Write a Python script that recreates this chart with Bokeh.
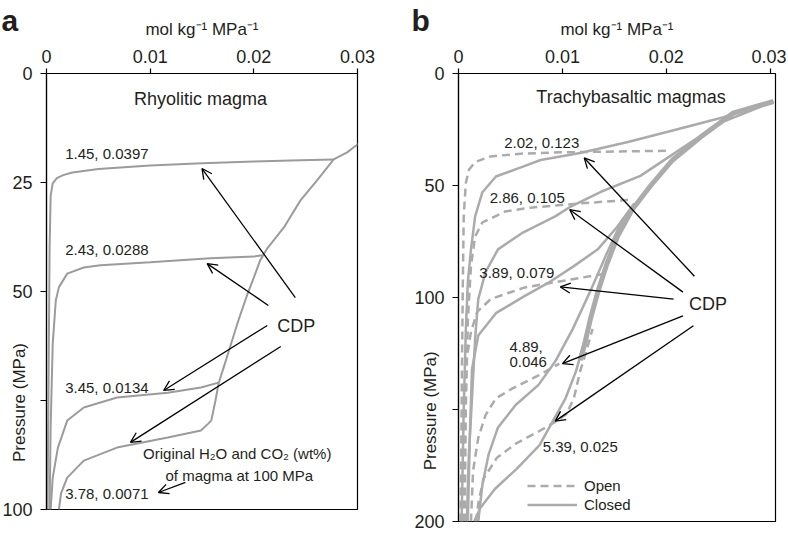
from bokeh.plotting import figure
from bokeh.models import Range1d, Label, Arrow, OpenHead, FixedTicker, Legend, LegendItem
from bokeh.layouts import row, column
from bokeh.embed import file_html
from bokeh.resources import INLINE

FONT = "Liberation Sans"
TXT = "#231f20"
NBSP = "\u00a0"

# ---------------- Panel a: Rhyolitic magma ----------------
a_xticks = [0, 0.01, 0.02, 0.03]
a_xtick_labels = ["0", "0.01", "0.02", "0.03"]
a_yticks = [0, 25, 50, 75, 100]
a_ytick_labels = ["0", "25", "50", "", "100"]

a1_x = [0.0001, 0.0002, 0.0003, 0.0004, 0.0006, 0.0010, 0.0016, 0.0025, 0.0050, 0.0100, 0.0150, 0.0200, 0.0245, 0.0277]
a1_p = [100, 70, 40, 28, 25.2, 24.0, 23.3, 22.7, 21.9, 21.1, 20.6, 20.2, 19.9, 19.7]

a2_x = [0.0003, 0.0004, 0.0006, 0.0009, 0.0012, 0.0020, 0.0036, 0.0052, 0.0100, 0.0158, 0.0200, 0.0208]
a2_p = [100, 81, 62, 52, 49, 45.9, 44.5, 44.0, 43.3, 42.4, 42.0, 41.7]

a3_x = [0.0004, 0.0006, 0.0011, 0.0020, 0.0036, 0.0068, 0.0117, 0.0149, 0.0166]
a3_p = [100, 92.7, 85.8, 79.6, 76.6, 74.3, 73.2, 72.0, 70.9]

a4_x = [0.0012, 0.0014, 0.0020, 0.0036, 0.0068, 0.0117, 0.0149, 0.0156, 0.0159]
a4_p = [100, 96.3, 92.7, 88.8, 85.8, 83.5, 81.9, 80.3, 79.6]

a_env_x = [0.0159, 0.0161, 0.0163, 0.0166, 0.0170, 0.0177, 0.0185, 0.0194, 0.0200, 0.0206,
           0.0213, 0.0229, 0.0245, 0.0261, 0.0277, 0.0290, 0.0301]
a_env_p = [79.6, 77.3, 75.0, 71.1, 68.1, 62.8, 56.7, 50.5, 46.8, 42.9,
           40.1, 35.3, 29.1, 24.5, 19.7, 18.1, 16.1]

# ---------------- Panel b: Trachybasaltic magmas ----------------
b_xticks = [0, 0.01, 0.02, 0.03]
b_xtick_labels = ["0", "0.01", "0.02", "0.03"]
b_yticks = [0, 50, 100, 150, 200]
b_ytick_labels = ["0", "50", "100", "", "200"]

band_x = [0.0303, 0.0264, 0.0233, 0.0206, 0.0185, 0.0167, 0.0153, 0.0142, 0.0134, 0.0127, 0.0121, 0.0117]
band_p = [12.5, 17.7, 28.4, 38.6, 50, 60.8, 72.7, 86, 97.6, 109.5, 121.5, 128]

c1_x = [0.0003, 0.0005, 0.0007, 0.0009, 0.0012, 0.0016, 0.0023, 0.0036, 0.0062, 0.0079, 0.0117, 0.0163, 0.0207, 0.0255, 0.0303]
c1_p = [200, 150, 115, 93, 78.5, 63.8, 53, 46, 41.6, 38.6, 35.5, 30.6, 25.3, 19.5, 12.5]
o1_x = [0.0002, 0.0003, 0.0004, 0.0005, 0.0007, 0.0010, 0.0016, 0.0031, 0.0060, 0.0098, 0.0156, 0.0203]
o1_p = [200, 150, 100, 64, 49, 43, 39.5, 37, 35.8, 35.2, 34.8, 34.5]

c2_x = [0.0008, 0.0010, 0.0013, 0.0016, 0.0019, 0.0026, 0.0038, 0.0062, 0.0093, 0.0108, 0.0137, 0.0175, 0.0213, 0.0252, 0.0303]
c2_p = [200, 170, 145, 118.4, 100.7, 88.7, 78.5, 71, 63.8, 59.4, 52.8, 45.7, 34, 22, 12.5]
o2_x = [0.0006, 0.0007, 0.0009, 0.0012, 0.0016, 0.0023, 0.0045, 0.0069, 0.0117, 0.0168]
o2_p = [200, 150, 110, 86, 72.7, 66.5, 61.6, 59.9, 58, 56.3]

c3_x = [0.0009, 0.0011, 0.0013, 0.0019, 0.0036, 0.0063, 0.0088, 0.0111, 0.0134, 0.0153, 0.0169]
c3_p = [200, 160, 132, 117, 107, 99.5, 93, 86, 78.5, 68.3, 58]
o3_x = [0.0004, 0.0005, 0.0008, 0.0012, 0.0018, 0.0031, 0.0063, 0.0095, 0.0138]
o3_p = [200, 158, 127, 115.3, 106.4, 100.7, 95.6, 93, 89.6]

c4_x = [0.0019, 0.0023, 0.0029, 0.0038, 0.0055, 0.0077, 0.0093, 0.0110, 0.0127, 0.0143, 0.0158]
c4_p = [200, 183.6, 170, 158, 148, 139, 128.6, 114, 97, 80, 65]
o4_x = [0.0012, 0.0014, 0.0019, 0.0026, 0.0036, 0.0052, 0.0077, 0.0097]
o4_p = [200, 177.4, 162.7, 152.5, 145, 140.6, 134.8, 129.5]

c5_x = [0.0015, 0.0021, 0.0035, 0.0056, 0.0078, 0.0091, 0.0103, 0.0113, 0.0120]
c5_p = [200, 194, 185.5, 176.5, 165.9, 155, 145, 133, 121.5]
o5_x = [0.0017, 0.0019, 0.0024, 0.0037, 0.0056, 0.0078, 0.0093, 0.0104, 0.0111, 0.0117, 0.0123, 0.0129]
o5_p = [200, 192, 181, 171.5, 165, 159.6, 155.5, 152, 145, 133, 124, 114]


def style(p, xticks, xlabels, yticks, ylabels, letter, letter_offset, npad, ylab_standoff):
    p.xgrid.visible = False
    p.ygrid.visible = False
    p.outline_line_color = "black"
    p.outline_line_width = 1.2
    p.background_fill_color = "white"
    p.border_fill_color = "white"
    for ax in (p.xaxis, p.yaxis):
        ax.axis_line_color = "black"
        ax.axis_line_width = 1.2
        ax.major_tick_line_color = "black"
        ax.major_tick_line_width = 1.2
        ax.major_tick_in = 0
        ax.minor_tick_line_color = None
        ax.major_label_text_font = FONT
        ax.major_label_text_font_size = "18px"
        ax.major_label_text_color = TXT
        ax.axis_label_text_font = FONT
        ax.axis_label_text_font_size = "17px"
        ax.axis_label_text_font_style = "normal"
        ax.axis_label_text_color = TXT
    p.xaxis.ticker = FixedTicker(ticks=xticks)
    p.xaxis.major_label_overrides = dict(zip(xticks, xlabels))
    p.xaxis.major_tick_out = 5
    p.xaxis.major_label_standoff = 6
    p.xaxis.axis_label = "mol kg\u207b\u00b9 MPa\u207b\u00b9"
    p.xaxis.axis_label_standoff = 8
    p.yaxis.ticker = FixedTicker(ticks=yticks)
    p.yaxis.major_label_overrides = dict(zip(yticks, ylabels))
    p.yaxis.major_tick_out = 6
    p.yaxis.major_label_standoff = 8
    # axis title shifted toward the lower part of the axis (as in the original)
    p.yaxis.axis_label = "Pressure (MPa)" + NBSP * npad
    p.yaxis.axis_label_standoff = ylab_standoff
    # panel letter
    p.title.text = letter
    p.title.align = "left"
    p.title.offset = letter_offset
    p.title.standoff = -40
    p.title.text_font = FONT
    p.title.text_font_size = "30px"
    p.title.text_font_style = "bold"
    p.title.text_color = TXT


def lab(p, x, y, text, size="15px", align="left", baseline="middle"):
    p.add_layout(Label(x=x, y=y, text=text, text_font=FONT, text_font_size=size,
                       text_color=TXT, text_align=align, text_baseline=baseline))


def arrow(p, x0, y0, x1, y1):
    p.add_layout(Arrow(end=OpenHead(size=10, line_width=1.3, line_color="black"),
                       x_start=x0, y_start=y0, x_end=x1, y_end=y1,
                       line_width=1.3, line_color="black"))


# ---------- Figure a ----------
pa = figure(width=400, height=533, x_range=Range1d(0, 0.03), y_range=Range1d(100, 0),
            x_axis_location="above", output_backend="svg", toolbar_location=None,
            min_border_left=46, min_border_right=43, min_border_top=73, min_border_bottom=24)
style(pa, a_xticks, a_xtick_labels, a_yticks, a_ytick_labels, "a", -45, 47, -30)

GA = "#9b9b9b"
for xs, ps in [(a_env_x, a_env_p), (a1_x, a1_p), (a2_x, a2_p), (a3_x, a3_p), (a4_x, a4_p)]:
    pa.line(xs, ps, line_color=GA, line_width=2)

lab(pa, 0.01485, 5.8, "Rhyolitic magma", size="18px", align="center")
lab(pa, 0.0018, 18.3, "1.45, 0.0397")
lab(pa, 0.0018, 40.4, "2.43, 0.0288")
lab(pa, 0.0018, 72.0, "3.45, 0.0134")
lab(pa, 0.0018, 96.3, "3.78, 0.0071")
lab(pa, 0.0184, 87.2, "Original H\u2082O and CO\u2082 (wt%)", align="center")
lab(pa, 0.0186, 92.2, "of magma at 100 MPa", align="center")
lab(pa, 0.0241, 58.0, "CDP", size="18px", align="center")

arrow(pa, 0.0240, 51.4, 0.0150, 21.8)
arrow(pa, 0.0214, 53.2, 0.0155, 43.6)
arrow(pa, 0.0213, 57.8, 0.0113, 72.7)
arrow(pa, 0.0226, 62.6, 0.0081, 84.6)
arrow(pa, 0.0134, 93.8, 0.0108, 96.1)

# ---------- Figure b ----------
pb = figure(width=386, height=533, x_range=Range1d(0, 0.0305), y_range=Range1d(200, 0),
            x_axis_location="above", output_backend="svg", toolbar_location=None,
            min_border_left=58, min_border_right=11, min_border_top=73, min_border_bottom=12)
style(pb, b_xticks, b_xtick_labels, b_yticks, b_ytick_labels, "b", -47, 48, -29)

GB = "#ababab"
DASH = "8 5"
pb.line(band_x, band_p, line_color=GB, line_width=5)
r_c = None
r_o = None
for cx, cp, ox, op in [(c1_x, c1_p, o1_x, o1_p), (c2_x, c2_p, o2_x, o2_p), (c3_x, c3_p, o3_x, o3_p),
                       (c4_x, c4_p, o4_x, o4_p), (c5_x, c5_p, o5_x, o5_p)]:
    rc = pb.line(cx, cp, line_color=GB, line_width=2.5)
    ro = pb.line(ox, op, line_color=GB, line_width=2.5, line_dash=DASH)
    if r_c is None:
        r_c, r_o = rc, ro

lab(pb, 0.0166, 10.6, "Trachybasaltic magmas", size="18px", align="center")
lab(pb, 0.0044, 30.6, "2.02, 0.123")
lab(pb, 0.0030, 55.5, "2.86, 0.105")
lab(pb, 0.0020, 88.9, "3.89, 0.079")
lab(pb, 0.0049, 122.0, "4.89,")
lab(pb, 0.0049, 129.0, "0.046")
lab(pb, 0.0081, 166.7, "5.39, 0.025")
lab(pb, 0.0240, 103.0, "CDP", size="18px", align="center")

arrow(pb, 0.0227, 90.5, 0.0121, 37.7)
arrow(pb, 0.0216, 97.6, 0.0107, 60.8)
arrow(pb, 0.0207, 100.7, 0.0098, 95.3)
arrow(pb, 0.0216, 108.2, 0.0100, 129.5)
arrow(pb, 0.0226, 112.6, 0.0093, 155.2)

legend = Legend(items=[LegendItem(label="Open", renderers=[r_o]),
                       LegendItem(label="Closed", renderers=[r_c])],
                location=(64, 2), glyph_width=50, glyph_height=19, label_height=19,
                label_standoff=7, spacing=0, padding=5, margin=0,
                border_line_alpha=0, background_fill_alpha=0,
                label_text_font=FONT, label_text_font_size="15px", label_text_color=TXT)
pb.add_layout(legend)

layout = row(column(pa), column(pb))
open("out.html", "w").write(file_html(layout, INLINE))
